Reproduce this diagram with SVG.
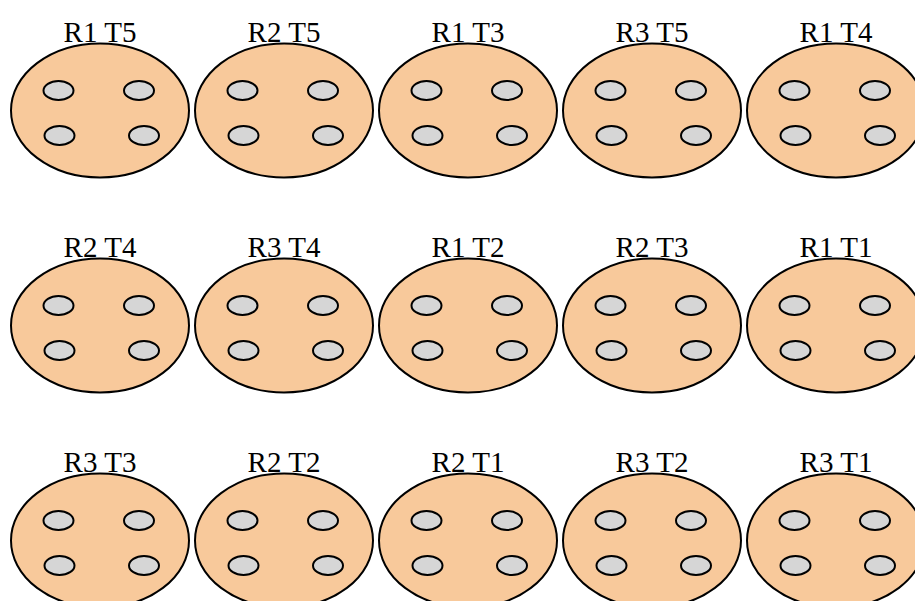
<svg xmlns="http://www.w3.org/2000/svg" width="915" height="601" viewBox="0 0 915 601">
<defs>
<style>
.big{fill:#f8c99b;stroke:#000;stroke-width:2}
.small{fill:#d6d6d6;stroke:#000;stroke-width:2}
.lbl{font-family:"Liberation Serif","Times New Roman",serif;font-size:29px;fill:#000;text-anchor:middle}
</style>
<g id="pod">
<ellipse class="big" cx="0" cy="0" rx="89" ry="67"/>
<ellipse class="small" cx="-41.5" cy="-20" rx="15" ry="9.5"/>
<ellipse class="small" cx="39" cy="-20" rx="15" ry="9.5"/>
<ellipse class="small" cx="-40.5" cy="25" rx="15" ry="9.5"/>
<ellipse class="small" cx="44" cy="25" rx="15" ry="9.5"/>
</g>
</defs>
<g id="connectors"></g>
<g id="n_r1t5"><use href="#pod" x="100" y="110.5"/><text class="lbl" x="100" y="41.5">R1 T5</text></g>
<g id="n_r2t5"><use href="#pod" x="284" y="110.5"/><text class="lbl" x="284" y="41.5">R2 T5</text></g>
<g id="n_r1t3"><use href="#pod" x="468" y="110.5"/><text class="lbl" x="468" y="41.5">R1 T3</text></g>
<g id="n_r3t5"><use href="#pod" x="652" y="110.5"/><text class="lbl" x="652" y="41.5">R3 T5</text></g>
<g id="n_r1t4"><use href="#pod" x="836" y="110.5"/><text class="lbl" x="836" y="41.5">R1 T4</text></g>
<g id="n_r2t4"><use href="#pod" x="100" y="325.5"/><text class="lbl" x="100" y="256.5">R2 T4</text></g>
<g id="n_r3t4"><use href="#pod" x="284" y="325.5"/><text class="lbl" x="284" y="256.5">R3 T4</text></g>
<g id="n_r1t2"><use href="#pod" x="468" y="325.5"/><text class="lbl" x="468" y="256.5">R1 T2</text></g>
<g id="n_r2t3"><use href="#pod" x="652" y="325.5"/><text class="lbl" x="652" y="256.5">R2 T3</text></g>
<g id="n_r1t1"><use href="#pod" x="836" y="325.5"/><text class="lbl" x="836" y="256.5">R1 T1</text></g>
<g id="n_r3t3"><use href="#pod" x="100" y="540.5"/><text class="lbl" x="100" y="471.5">R3 T3</text></g>
<g id="n_r2t2"><use href="#pod" x="284" y="540.5"/><text class="lbl" x="284" y="471.5">R2 T2</text></g>
<g id="n_r2t1"><use href="#pod" x="468" y="540.5"/><text class="lbl" x="468" y="471.5">R2 T1</text></g>
<g id="n_r3t2"><use href="#pod" x="652" y="540.5"/><text class="lbl" x="652" y="471.5">R3 T2</text></g>
<g id="n_r3t1"><use href="#pod" x="836" y="540.5"/><text class="lbl" x="836" y="471.5">R3 T1</text></g>
</svg>
